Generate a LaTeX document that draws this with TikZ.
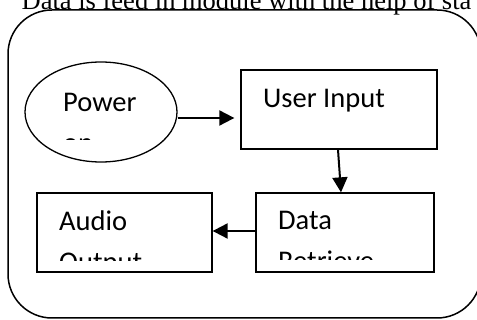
\documentclass[tikz,border=0pt]{standalone}
\usepackage{fontspec}
\setmainfont{Liberation Serif}
\newfontfamily\bodyfont{Carlito}
\usetikzlibrary{arrows.meta,shapes.geometric}
\tikzset{
  frame/.style={draw, line width=1.5pt, rounded corners=44pt},
  blockbox/.style={draw, rectangle, line width=1.3pt, inner sep=0pt},
  startshape/.style={draw, ellipse, line width=1.3pt, inner sep=0pt},
  % two-line labels: the base anchor sits on the last line
  label/.style={anchor=base west, inner sep=0pt, align=left,
    font=\bodyfont\fontsize{28.5}{41}\selectfont},
  flow/.style={line width=2pt, -{Triangle[length=15pt,width=15pt]}},
}
\begin{document}
\begin{tikzpicture}[x=1pt,y=-1pt]
  \useasboundingbox (0,0) rectangle (477,320);
  \fill[white] (0,0) rectangle (477,320);

  % caption running above the frame
  \node[anchor=base west, inner sep=0pt, font=\fontsize{26.5}{30}\selectfont]
    (caption) at (21.5,9.3) {Data is feed in module with the help of sta};

  % outer rounded frame
  \draw[frame] (8,10) rectangle (481,318);

  % blocks
  \node[startshape, minimum width=152pt, minimum height=100pt] (pw) at (101,112) {};
  \node[blockbox, minimum width=196pt, minimum height=79pt] (ui) at (339,109.5) {};
  \node[blockbox, minimum width=178pt, minimum height=79pt] (dr) at (345,232.5) {};
  \node[blockbox, minimum width=175pt, minimum height=79pt] (ao) at (124.5,232.5) {};

  % block texts, cut off at the inner margin of each block
  \begin{scope}
    \clip (25,62) rectangle (177,140);
    \node[label] (pwtext) at (63,153) {Power\\on};
  \end{scope}
  \node[label] (uitext) at (263,108) {User Input};
  \begin{scope}
    \clip (256,193) rectangle (434,260);
    \node[label] (drtext) at (278,271) {Data\\Retrieve};
  \end{scope}
  \begin{scope}
    \clip (37,193) rectangle (212,261);
    \node[label] (aotext) at (59,272) {Audio\\Output};
  \end{scope}

  % connectors
  \draw[flow] ([yshift=-6pt]pw.east) -- ([xshift=-6pt,yshift=-8.5pt]ui.west);
  \draw[flow] ([xshift=-1pt]ui.south) -- ([xshift=-4pt]dr.north);
  \draw[flow] ([yshift=1.5pt]dr.west) -- ([yshift=1.5pt]ao.east);
\end{tikzpicture}
\end{document}
